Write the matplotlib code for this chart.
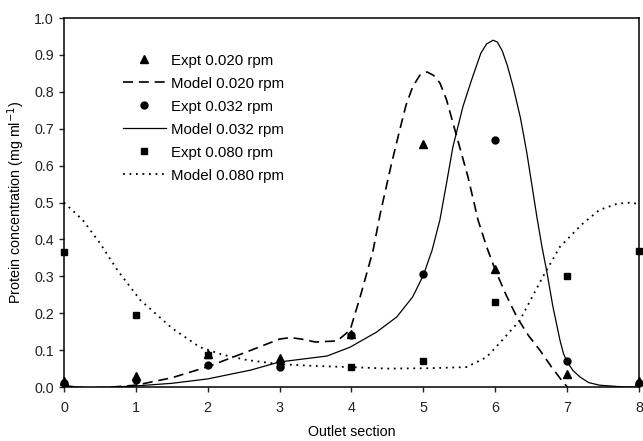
import numpy as np
from matplotlib import pyplot as plt

plt.rcParams['font.family'] = ['Liberation Sans', 'DejaVu Sans']

sections = [0, 1, 2, 3, 4, 5, 6, 7, 8]
expt_020 = [0.015, 0.030, 0.090, 0.080, 0.145, 0.660, 0.320, 0.035, 0.015]
expt_032 = [0.010, 0.020, 0.060, 0.055, 0.140, 0.305, 0.670, 0.070, 0.010]
expt_080 = [0.365, 0.195, 0.088, 0.060, 0.053, 0.070, 0.230, 0.300, 0.370]

# model curves
model_020_x = [0, 0.3, 0.6, 1.0, 1.5, 2.0, 2.5, 3.0, 3.15, 3.3, 3.5, 3.8, 3.98, 4.12, 4.2,
               4.3, 4.4, 4.55, 4.67, 4.76, 4.85, 4.95, 5.05, 5.14, 5.23, 5.32, 5.42, 5.52,
               5.62, 5.76, 5.88, 6.0, 6.15, 6.3, 6.46, 6.62, 6.78, 6.94, 7.04, 7.3, 7.6, 8.0]
model_020_y = [0.003, -0.002, -0.001, 0.005, 0.025, 0.055, 0.092, 0.130, 0.134, 0.130,
               0.122, 0.125, 0.154, 0.244, 0.300, 0.370, 0.470, 0.600, 0.696, 0.765,
               0.813, 0.845, 0.854, 0.845, 0.824, 0.780, 0.710, 0.640, 0.570, 0.453,
               0.380, 0.317, 0.250, 0.190, 0.140, 0.100, 0.055, 0.014, -0.008, -0.040,
               -0.030, 0.000]
model_032_x = [0, 0.3, 0.6, 1.0, 1.5, 2.0, 2.6, 3.0, 3.66, 3.98, 4.35, 4.63, 4.85, 5.0,
               5.12, 5.23, 5.32, 5.41, 5.55, 5.67, 5.8, 5.88, 5.97, 6.03, 6.1, 6.17, 6.25,
               6.35, 6.44, 6.58, 6.65, 6.72, 6.8, 6.9, 6.95, 7.0, 7.08, 7.18, 7.3, 7.45,
               7.8, 8.0]
model_032_y = [0.003, -0.002, -0.001, 0.003, 0.010, 0.022, 0.046, 0.068, 0.084, 0.108,
               0.149, 0.190, 0.244, 0.303, 0.370, 0.453, 0.550, 0.650, 0.760, 0.832,
               0.905, 0.930, 0.940, 0.935, 0.910, 0.870, 0.813, 0.730, 0.634, 0.460,
               0.380, 0.310, 0.220, 0.127, 0.090, 0.068, 0.045, 0.027, 0.012, 0.005,
               0.000, 0.000]
model_080_x = [0, 0.26, 0.5, 0.75, 1.06, 1.5, 1.89, 2.2, 2.55, 3.0, 3.5, 3.98, 4.5, 5.09,
               5.6, 5.88, 6.06, 6.34, 6.66, 6.9, 7.2, 7.45, 7.7, 7.9, 8.0]
model_080_y = [0.500, 0.453, 0.390, 0.315, 0.236, 0.160, 0.108, 0.088, 0.073, 0.062,
               0.057, 0.054, 0.050, 0.051, 0.054, 0.081, 0.119, 0.180, 0.298, 0.380,
               0.440, 0.480, 0.497, 0.500, 0.495]

fs = 10.3

fig = plt.figure(figsize=(6.43, 4.41), dpi=100)
ax = fig.add_axes([0.0995, 0.1224, 0.8943, 0.8366])

ms = 5
ax.plot(sections, expt_020, 'k^', ms=ms + 0.5, clip_on=False, zorder=4, label='Expt 0.020 rpm')
ax.plot(model_020_x, model_020_y, 'k', lw=1.2, dashes=(6, 3.5), label='Model 0.020 rpm')
ax.plot(sections, expt_032, 'ko', ms=ms, clip_on=False, zorder=4, label='Expt 0.032 rpm')
ax.plot(model_032_x, model_032_y, 'k-', lw=0.9, label='Model 0.032 rpm')
ax.plot(sections, expt_080, 'ks', ms=ms - 0.5, clip_on=False, zorder=4, label='Expt 0.080 rpm')
ax.plot(model_080_x, model_080_y, 'k', lw=1.3, dashes=(1, 2.6), label='Model 0.080 rpm')

ax.set_xlim(0, 8)
ax.set_ylim(0, 1.0)
ax.set_xticks(sections)
ax.set_yticks(np.arange(0, 1.01, 0.1))
ax.set_yticklabels(['%.1f' % v for v in np.arange(0, 1.01, 0.1)])
ax.tick_params(direction='out', length=3.6, width=1, labelsize=fs, colors='#222222')
ax.tick_params(axis='x', pad=6.5)
ax.tick_params(axis='y', pad=3.5)
for s in ax.spines.values():
	s.set_linewidth(1.1)

ax.set_xlabel('Outlet section', fontsize=fs, labelpad=7)
ax.set_ylabel('Protein concentration (mg ml$^{-1}$)', fontsize=fs, labelpad=5)

ax.legend(loc='upper left', bbox_to_anchor=(0.092, 0.92), frameon=False, fontsize=10.8,
	handlelength=2.87, handletextpad=0.33, labelspacing=0.6, borderaxespad=0)

plt.savefig('out.png')
